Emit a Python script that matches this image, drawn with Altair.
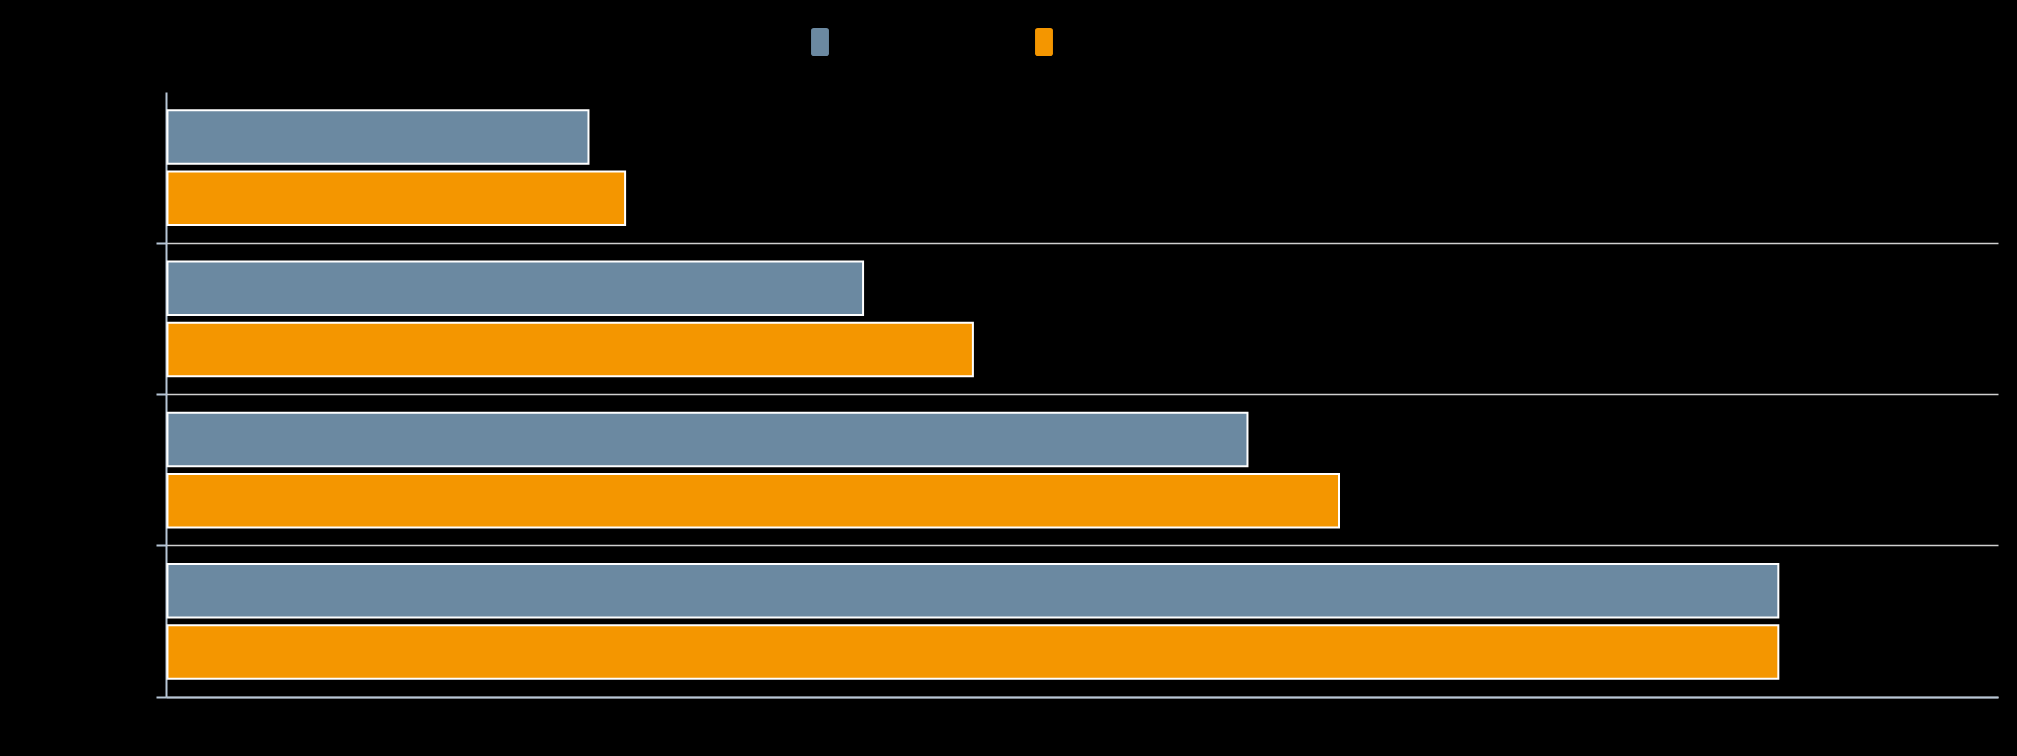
import altair as alt
import pandas as pd

categories = ["18–29", "30–49", "50–64", "65+"]
series = ["Previous survey", "Most recent survey"]
previous_values = [23, 38, 59, 88]
recent_values = [25, 44, 64, 88]
colors = ["#6B89A1", "#F49600"]

rows = []
for c, a, b in zip(categories, previous_values, recent_values):
    rows.append({"category": c, "series": series[0], "value": a})
    rows.append({"category": c, "series": series[1], "value": b})
df = pd.DataFrame(rows)

rounded = ("M-0.44,-1 L0.44,-1 Q0.64,-1 0.64,-0.8 L0.64,0.8 Q0.64,1 0.44,1 "
           "L-0.44,1 Q-0.64,1 -0.64,0.8 L-0.64,-0.8 Q-0.64,-1 -0.44,-1 Z")

chart = alt.Chart(df).mark_bar(stroke="white", strokeWidth=2).encode(
    y=alt.Y("category:N", sort=categories,
            scale=alt.Scale(paddingInner=0, paddingOuter=0),
            axis=alt.Axis(title=None, bandPosition=1, grid=True, gridColor="#cfcfcf",
                          gridWidth=1.5, domainColor="#b7c6d6", domainWidth=2,
                          tickColor="#b7c6d6", tickWidth=2, tickSize=10,
                          labelColor="black", labelFontSize=16)),
    yOffset=alt.YOffset("series:N", sort=series,
                        scale=alt.Scale(paddingInner=0.13, paddingOuter=0.3)),
    x=alt.X("value:Q", scale=alt.Scale(domain=[-0.08, 100], nice=False),
            axis=alt.Axis(title=None, grid=False, ticks=False, labels=True,
                          labelColor="black", domainColor="#b7c6d6", domainWidth=2)),
    color=alt.Color("series:N", sort=series,
                    scale=alt.Scale(domain=series, range=colors),
                    legend=alt.Legend(title=None, orient="none", direction="horizontal",
                                      legendX=640, legendY=-64,
                                      symbolType=rounded, symbolSize=784,
                                      symbolStrokeWidth=0, labelColor="black",
                                      labelFontSize=16, columnPadding=78)),
).properties(
    width=1832, height=605,
    autosize=alt.AutoSizeParams(type="none"),
    padding={"left": 166, "top": 92, "right": 19, "bottom": 59},
    background="black",
).configure_view(stroke=None)

chart.save("out.html", embed_options={"renderer": "svg", "actions": False})
